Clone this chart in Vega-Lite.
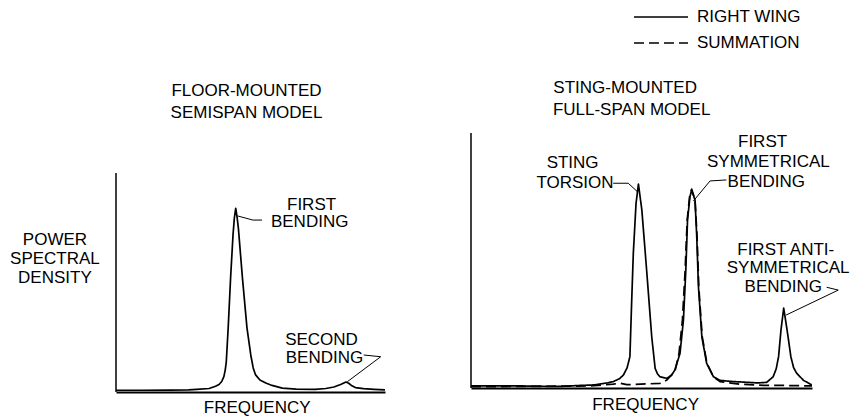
{
  "$schema": "https://vega.github.io/schema/vega-lite/v6.json",
  "padding": {"left": 10, "top": 4, "right": 0, "bottom": 0},
  "spacing": 84,
  "background": "white",
  "config": {
    "view": {"stroke": null},
    "font": "Liberation Sans",
    "text": {"font": "Liberation Sans", "fontSize": 17, "color": "black", "align": "center", "baseline": "middle"},
    "axisX": {"domain": true, "domainColor": "black", "domainWidth": 2, "ticks": false, "labels": false, "grid": false},
    "axisY": {"domain": false, "ticks": false, "labels": false, "grid": false}
  },
  "resolve": {"legend": {"strokeDash": "independent"}},
  "hconcat": [
    {
      "width": 269,
      "height": 387,
      "layer": [
        {
          "data": {"values": [
            {"f": 0, "p": 0.8}, {"f": 10, "p": 0.8}, {"f": 20, "p": 0.9}, {"f": 27, "p": 1.0}, {"f": 30, "p": 1.2},
            {"f": 34.6, "p": 1.6}, {"f": 37, "p": 2.6}, {"f": 38.3, "p": 3.4}, {"f": 39.3, "p": 4.8}, {"f": 40.1, "p": 7.0},
            {"f": 40.6, "p": 10}, {"f": 41.0, "p": 13.8}, {"f": 41.7, "p": 29.2}, {"f": 42.6, "p": 52.1}, {"f": 43.5, "p": 71.7},
            {"f": 44.0, "p": 79.5}, {"f": 44.5, "p": 83.9}, {"f": 45.0, "p": 80}, {"f": 45.5, "p": 74.7}, {"f": 47.0, "p": 52.1},
            {"f": 48.7, "p": 29.2}, {"f": 50.1, "p": 16.9}, {"f": 51.0, "p": 11}, {"f": 51.9, "p": 7.8}, {"f": 53.5, "p": 5.5},
            {"f": 55.7, "p": 4.1}, {"f": 58, "p": 3.0}, {"f": 61.8, "p": 1.8}, {"f": 67, "p": 1.3}, {"f": 74, "p": 1.2},
            {"f": 78, "p": 1.6}, {"f": 81, "p": 2.3}, {"f": 83.5, "p": 3.4}, {"f": 85.5, "p": 4.6}, {"f": 86.5, "p": 4.0},
            {"f": 87.5, "p": 3.0}, {"f": 89, "p": 2.0}, {"f": 92, "p": 1.5}, {"f": 96, "p": 1.2}, {"f": 100, "p": 1.0}
          ]},
          "mark": {"type": "line", "color": "black", "strokeWidth": 1.7, "strokeJoin": "round"},
          "encoding": {
            "x": {"field": "f", "type": "quantitative", "title": null, "scale": {"domain": [0, 100], "nice": false, "zero": false}},
            "y": {"field": "p", "type": "quantitative", "axis": null, "scale": {"domain": [0, 176.7], "nice": false, "zero": false}}
          }
        },
        {
          "data": {"values": [
            {"id": "a", "k": 1, "f": 45.2, "p": 80.4}, {"id": "a", "k": 2, "f": 50.9, "p": 78.5}, {"id": "a", "k": 3, "f": 54.3, "p": 78.5},
            {"id": "b", "k": 1, "f": 92.1, "p": 16.9}, {"id": "b", "k": 2, "f": 98.4, "p": 16.1}, {"id": "b", "k": 3, "f": 86.0, "p": 4.7}
          ]},
          "mark": {"type": "line", "color": "black", "strokeWidth": 1},
          "encoding": {
            "x": {"field": "f", "type": "quantitative", "title": null},
            "y": {"field": "p", "type": "quantitative", "axis": null},
            "detail": {"field": "id"},
            "order": {"field": "k", "type": "quantitative"}
          }
        },
        {
          "data": {"values": [{}]},
          "mark": {"type": "rule", "color": "black", "strokeWidth": 1.5},
          "encoding": {
            "x": {"datum": 0, "type": "quantitative", "title": null},
            "y": {"datum": 0, "type": "quantitative", "axis": null},
            "y2": {"datum": 100}
          }
        },
        {
          "data": {"values": [
            {"label": "FLOOR-MOUNTED", "tx": 48.5, "ty": 137.4},
            {"label": "SEMISPAN MODEL", "tx": 48.5, "ty": 127.2},
            {"label": "POWER", "tx": -22.7, "ty": 69.4},
            {"label": "SPECTRAL", "tx": -22.7, "ty": 60.7},
            {"label": "DENSITY", "tx": -22.7, "ty": 52.1},
            {"label": "FIRST", "tx": 72.7, "ty": 85.4},
            {"label": "BENDING", "tx": 72.0, "ty": 77.6},
            {"label": "SECOND", "tx": 76.4, "ty": 23.7},
            {"label": "BENDING", "tx": 77.5, "ty": 15.7},
            {"label": "FREQUENCY", "tx": 52.5, "ty": -7.3}
          ]},
          "mark": {"type": "text"},
          "encoding": {
            "x": {"field": "tx", "type": "quantitative", "title": null},
            "y": {"field": "ty", "type": "quantitative", "axis": null},
            "text": {"field": "label"}
          }
        }
      ]
    },
    {
      "width": 341,
      "height": 383,
      "layer": [
        {
          "data": {"values": [
            {"s": "RIGHT WING", "f": 0, "p": 0.8}, {"s": "RIGHT WING", "f": 15, "p": 0.8}, {"s": "RIGHT WING", "f": 26, "p": 0.6},
            {"s": "RIGHT WING", "f": 32, "p": 1.0}, {"s": "RIGHT WING", "f": 36, "p": 1.2}, {"s": "RIGHT WING", "f": 40, "p": 2.0},
            {"s": "RIGHT WING", "f": 41.7, "p": 2.5}, {"s": "RIGHT WING", "f": 43.5, "p": 3.6}, {"s": "RIGHT WING", "f": 44.7, "p": 5.1},
            {"s": "RIGHT WING", "f": 45.8, "p": 8}, {"s": "RIGHT WING", "f": 46.6, "p": 12.3}, {"s": "RIGHT WING", "f": 47.1, "p": 33.2},
            {"s": "RIGHT WING", "f": 47.6, "p": 52.8}, {"s": "RIGHT WING", "f": 48.4, "p": 72.4}, {"s": "RIGHT WING", "f": 49.1, "p": 80},
            {"s": "RIGHT WING", "f": 50.1, "p": 69.8}, {"s": "RIGHT WING", "f": 51.5, "p": 46.3}, {"s": "RIGHT WING", "f": 53.0, "p": 20.1},
            {"s": "RIGHT WING", "f": 54.0, "p": 7.7}, {"s": "RIGHT WING", "f": 54.7, "p": 5.5}, {"s": "RIGHT WING", "f": 55.4, "p": 4.4},
            {"s": "RIGHT WING", "f": 57.4, "p": 3.8}, {"s": "RIGHT WING", "f": 58.8, "p": 5}, {"s": "RIGHT WING", "f": 59.8, "p": 7.1},
            {"s": "RIGHT WING", "f": 61.3, "p": 13.6}, {"s": "RIGHT WING", "f": 62.3, "p": 26.7}, {"s": "RIGHT WING", "f": 63.0, "p": 46.3},
            {"s": "RIGHT WING", "f": 63.5, "p": 65.9}, {"s": "RIGHT WING", "f": 64.2, "p": 75}, {"s": "RIGHT WING", "f": 64.7, "p": 77.6},
            {"s": "RIGHT WING", "f": 65.7, "p": 73.7}, {"s": "RIGHT WING", "f": 66.2, "p": 59.3}, {"s": "RIGHT WING", "f": 66.7, "p": 39.7},
            {"s": "RIGHT WING", "f": 67.7, "p": 20.1}, {"s": "RIGHT WING", "f": 69.1, "p": 9.7}, {"s": "RIGHT WING", "f": 71.1, "p": 4.4},
            {"s": "RIGHT WING", "f": 73.0, "p": 3.0}, {"s": "RIGHT WING", "f": 76, "p": 2.6}, {"s": "RIGHT WING", "f": 80, "p": 2.3},
            {"s": "RIGHT WING", "f": 84, "p": 2.0}, {"s": "RIGHT WING", "f": 86.7, "p": 2.2}, {"s": "RIGHT WING", "f": 88.6, "p": 4.4},
            {"s": "RIGHT WING", "f": 89.5, "p": 7.5}, {"s": "RIGHT WING", "f": 90.2, "p": 12.3}, {"s": "RIGHT WING", "f": 90.9, "p": 22.7},
            {"s": "RIGHT WING", "f": 91.7, "p": 31.3}, {"s": "RIGHT WING", "f": 92.7, "p": 22.7}, {"s": "RIGHT WING", "f": 93.8, "p": 12.3},
            {"s": "RIGHT WING", "f": 94.6, "p": 8}, {"s": "RIGHT WING", "f": 95.5, "p": 5.8}, {"s": "RIGHT WING", "f": 97.5, "p": 3.0},
            {"s": "RIGHT WING", "f": 99.9, "p": 1.2},
            {"s": "SUMMATION", "f": 0, "p": 0.5}, {"s": "SUMMATION", "f": 35, "p": 0.8}, {"s": "SUMMATION", "f": 41.7, "p": 1.5},
            {"s": "SUMMATION", "f": 43.7, "p": 1.9}, {"s": "SUMMATION", "f": 45.7, "p": 1.3}, {"s": "SUMMATION", "f": 55.4, "p": 1.8},
            {"s": "SUMMATION", "f": 57.4, "p": 3.1}, {"s": "SUMMATION", "f": 59.8, "p": 6.5}, {"s": "SUMMATION", "f": 61.0, "p": 13.6},
            {"s": "SUMMATION", "f": 62.0, "p": 26.7}, {"s": "SUMMATION", "f": 62.8, "p": 46.3}, {"s": "SUMMATION", "f": 63.4, "p": 65.9},
            {"s": "SUMMATION", "f": 64.1, "p": 75}, {"s": "SUMMATION", "f": 64.7, "p": 78}, {"s": "SUMMATION", "f": 65.7, "p": 73.7},
            {"s": "SUMMATION", "f": 66.3, "p": 59.3}, {"s": "SUMMATION", "f": 66.8, "p": 39.7}, {"s": "SUMMATION", "f": 67.8, "p": 20.1},
            {"s": "SUMMATION", "f": 69.2, "p": 9.7}, {"s": "SUMMATION", "f": 71.1, "p": 4.4}, {"s": "SUMMATION", "f": 73.0, "p": 2.5},
            {"s": "SUMMATION", "f": 78.9, "p": 1.5}, {"s": "SUMMATION", "f": 86, "p": 1.0}, {"s": "SUMMATION", "f": 92, "p": 1.0},
            {"s": "SUMMATION", "f": 100, "p": 0.8}
          ]},
          "mark": {"type": "line", "color": "black", "strokeWidth": 1.7, "strokeJoin": "round"},
          "encoding": {
            "x": {"field": "f", "type": "quantitative", "title": null, "scale": {"domain": [0, 100], "nice": false, "zero": false}},
            "y": {"field": "p", "type": "quantitative", "axis": null, "scale": {"domain": [0, 150.2], "nice": false, "zero": false}},
            "strokeDash": {
              "field": "s", "type": "nominal",
              "scale": {"domain": ["RIGHT WING", "SUMMATION"], "range": [[1, 0], [10, 5]]},
              "legend": {
                "orient": "none", "legendX": 162, "legendY": -1, "title": null,
                "symbolType": "stroke", "symbolSize": 2916, "symbolStrokeWidth": 1.5, "symbolStrokeColor": "black",
                "labelFontSize": 17, "labelFont": "Liberation Sans", "labelColor": "black", "labelOffset": 8,
                "clipHeight": 26, "rowPadding": 0, "padding": 0
              }
            }
          }
        },
        {
          "data": {"values": [
            {"id": "c", "k": 1, "f": 41.7, "p": 80.3}, {"id": "c", "k": 2, "f": 46.1, "p": 80.3}, {"id": "c", "k": 3, "f": 48.8, "p": 77.0},
            {"id": "d", "k": 1, "f": 74.9, "p": 81.6}, {"id": "d", "k": 2, "f": 70.1, "p": 81.2}, {"id": "d", "k": 3, "f": 65.2, "p": 73.3},
            {"id": "e", "k": 1, "f": 104.3, "p": 39.5}, {"id": "e", "k": 2, "f": 107.7, "p": 38.4}, {"id": "e", "k": 3, "f": 92.4, "p": 28.6}
          ]},
          "mark": {"type": "line", "color": "black", "strokeWidth": 1},
          "encoding": {
            "x": {"field": "f", "type": "quantitative", "title": null},
            "y": {"field": "p", "type": "quantitative", "axis": null},
            "detail": {"field": "id"},
            "order": {"field": "k", "type": "quantitative"}
          }
        },
        {
          "data": {"values": [{}]},
          "mark": {"type": "rule", "color": "black", "strokeWidth": 1.5},
          "encoding": {
            "x": {"datum": 0, "type": "quantitative", "title": null},
            "y": {"datum": 0, "type": "quantitative", "axis": null},
            "y2": {"datum": 100}
          }
        },
        {
          "data": {"values": [
            {"label": "STING-MOUNTED", "tx": 45.2, "ty": 117.5},
            {"label": "FULL-SPAN MODEL", "tx": 47.1, "ty": 109.0},
            {"label": "STING", "tx": 29.8, "ty": 88.1},
            {"label": "TORSION", "tx": 30.5, "ty": 80.3},
            {"label": "FIRST", "tx": 85.5, "ty": 96.6},
            {"label": "SYMMETRICAL", "tx": 87.2, "ty": 88.7},
            {"label": "BENDING", "tx": 86.6, "ty": 80.9},
            {"label": "FIRST ANTI-", "tx": 92.3, "ty": 54.1},
            {"label": "SYMMETRICAL", "tx": 93.0, "ty": 46.9},
            {"label": "BENDING", "tx": 91.6, "ty": 39.7},
            {"label": "FREQUENCY", "tx": 51.2, "ty": -6.7}
          ]},
          "mark": {"type": "text"},
          "encoding": {
            "x": {"field": "tx", "type": "quantitative", "title": null},
            "y": {"field": "ty", "type": "quantitative", "axis": null},
            "text": {"field": "label"}
          }
        }
      ]
    }
  ]
}
